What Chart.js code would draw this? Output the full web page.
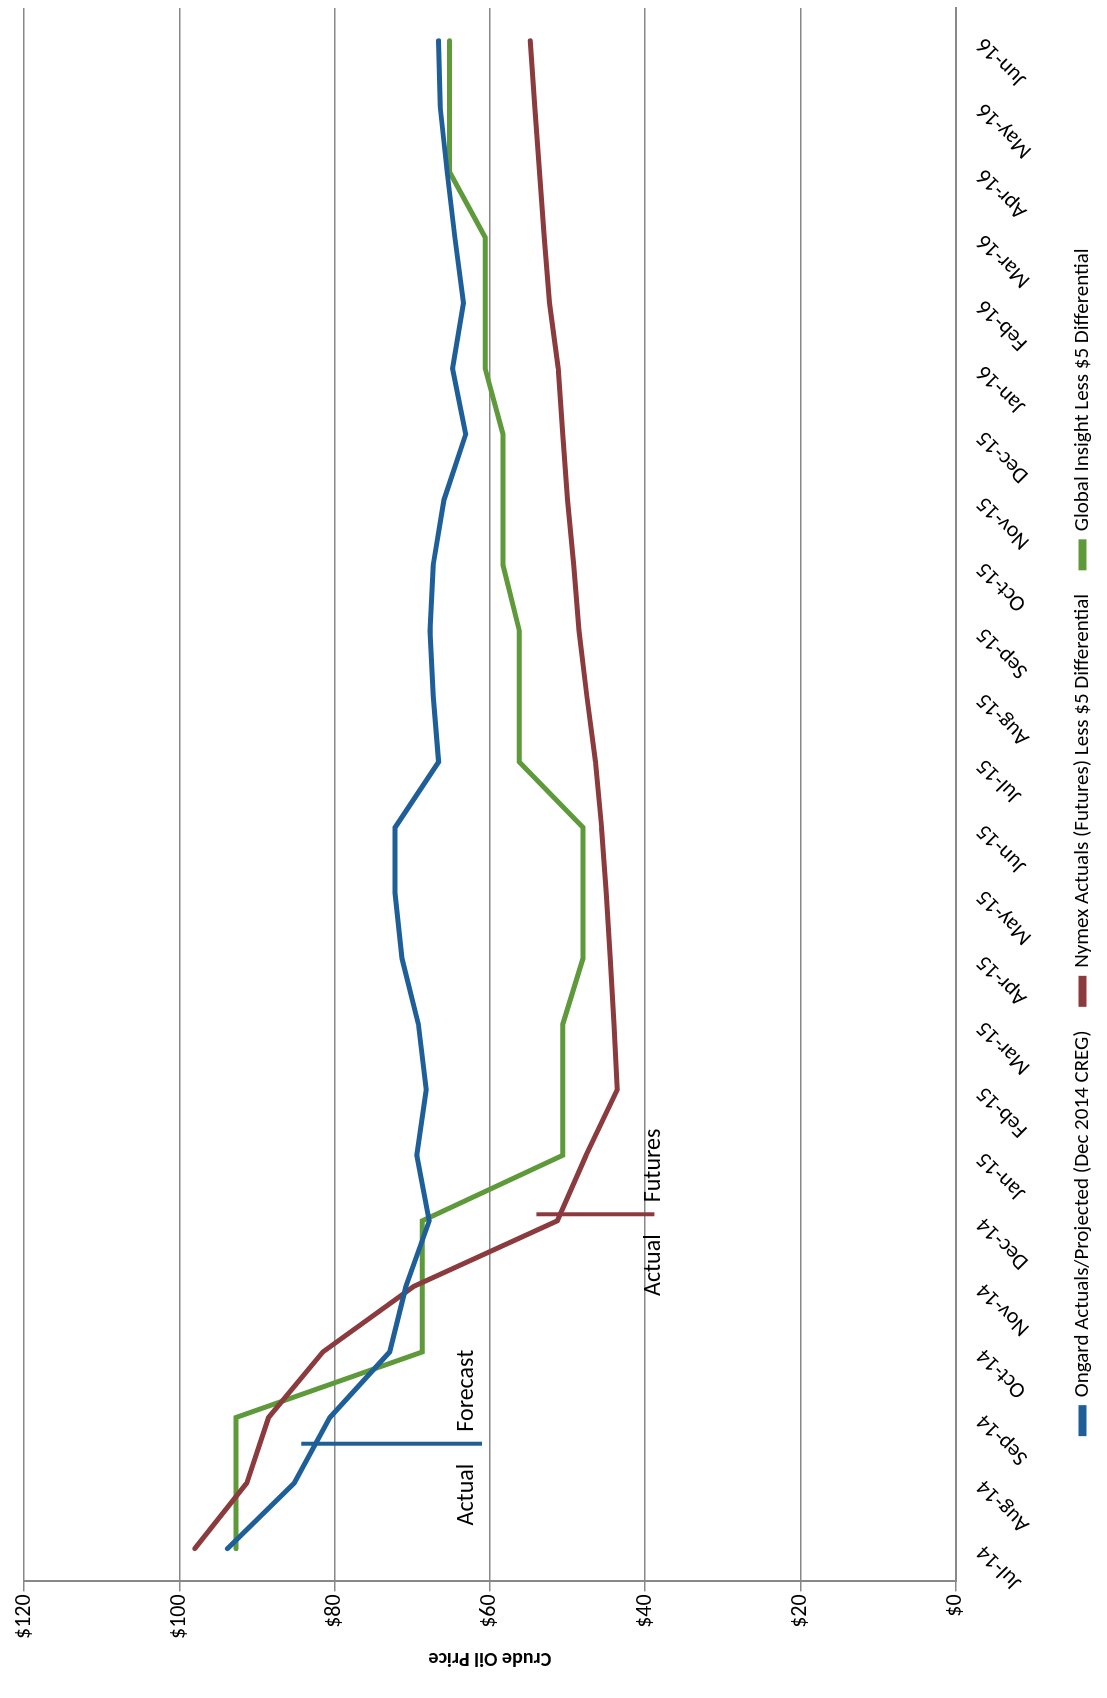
<!DOCTYPE html>
<html><head><meta charset="utf-8">
<script src="https://cdn.jsdelivr.net/npm/chart.js@4"></script>
<style>
html,body{margin:0;padding:0;background:#fff;width:1107px;height:1698px;overflow:hidden}
#wrap{position:absolute;left:0;top:0;width:1698px;height:1107px;transform-origin:0 0;transform:rotate(-90deg) translate(-1698px,0)}
</style></head><body>
<div id="wrap"><canvas id="c" width="1698" height="1107"></canvas></div>
<script>
const months=["Jul-14","Aug-14","Sep-14","Oct-14","Nov-14","Dec-14","Jan-15","Feb-15","Mar-15","Apr-15","May-15","Jun-15","Jul-15","Aug-15","Sep-15","Oct-15","Nov-15","Dec-15","Jan-16","Feb-16","Mar-16","Apr-16","May-16","Jun-16"];
const ongard=[93.8,85.2,80.6,72.9,70.8,67.8,69.4,68.2,69.2,71.3,72.2,72.2,66.6,67.3,67.7,67.3,65.9,63.1,64.8,63.4,64.5,65.5,66.4,66.6];
const nymex=[98,91.3,88.5,81.5,69.8,51.3,47.6,43.6,44,44.5,45,45.6,46.4,47.5,48.5,49.2,50,50.6,51.2,52.3,53,53.6,54.2,54.8];
const global=[92.7,92.7,92.7,68.7,68.7,68.7,50.6,50.6,50.6,48,48,48,56.2,56.2,56.2,58.3,58.3,58.3,60.6,60.6,60.6,65.2,65.2,65.2];
const yTicks=[0,20,40,60,80,100,120];
const markers=[{idx:1.6,from:84.3,to:61,color:"#1f5f99",left:"Actual",right:"Forecast",lv:63},{idx:5.1,from:54,to:38.8,color:"#8b3a3e",left:"Actual",right:"Futures",lv:38.8}];
const F="Carlito, Calibri, 'Open Sans', 'DejaVu Sans', sans-serif";
const markerPlugin={id:'mk',afterDatasetsDraw(ch){const c=ch.ctx,x=ch.scales.x,y=ch.scales.y;
 const step=x.getPixelForValue(1)-x.getPixelForValue(0);
 markers.forEach(m=>{const px=x.getPixelForValue(0)+m.idx*step;
  c.save();c.strokeStyle=m.color;c.lineWidth=4;c.beginPath();c.moveTo(px,y.getPixelForValue(m.from));c.lineTo(px,y.getPixelForValue(m.to));c.stroke();
  c.fillStyle="#000";c.font="24px "+F;c.textBaseline="middle";
  const ty=y.getPixelForValue(m.lv);
  c.textAlign="right";c.fillText(m.left,px-20,ty);
  c.textAlign="left";c.fillText(m.right,px+12,ty);c.restore();
 });}};
new Chart(document.getElementById('c'),{type:'line',
 data:{labels:months,datasets:[
  {label:"Ongard Actuals/Projected (Dec 2014 CREG)",data:ongard,borderColor:"#1f5f99",backgroundColor:"#1f5f99"},
  {label:"Nymex Actuals (Futures) Less $5 Differential",data:nymex,borderColor:"#8b3a3e",backgroundColor:"#8b3a3e"},
  {label:"Global Insight Less $5 Differential",data:global,borderColor:"#5e9a3a",backgroundColor:"#5e9a3a"}]},
 options:{responsive:false,animation:false,
  layout:{padding:{left:24,right:8,top:24,bottom:4}},
  elements:{point:{radius:0},line:{borderWidth:5,tension:0,borderCapStyle:'round'}},
  plugins:{legend:{position:'bottom',labels:{font:{size:21,family:F},color:"#000",boxWidth:26,boxHeight:3,padding:26}},tooltip:{enabled:false}},
  scales:{
   x:{offset:true,grid:{display:false,offset:true,drawTicks:true},border:{color:"#888",width:2},
      ticks:{color:"#000",font:{size:22,family:F},maxRotation:45,minRotation:45,autoSkip:false,padding:8}},
   y:{min:0,max:120,afterBuildTicks:a=>{a.ticks=yTicks.map(v=>({value:v}));},
      grid:{color:"#888",lineWidth:1.5,tickLength:10},border:{color:"#888",width:2},
      title:{display:true,text:"Crude Oil Price",font:{size:20,weight:'bold',family:F},color:"#000"},
      ticks:{color:"#000",font:{size:22,family:F},callback:v=>"$"+v}}}},
 plugins:[markerPlugin]});
</script></body></html>
